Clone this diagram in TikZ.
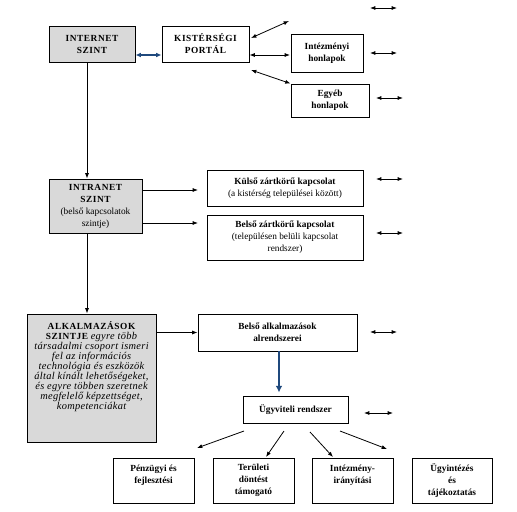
\documentclass[tikz,border=0pt]{standalone}
\usepackage{fontspec}
\setmainfont{Liberation Serif}
\usetikzlibrary{arrows.meta,calc}
\definecolor{linkblue}{RGB}{31,73,125}
\def\px{0.75pt}
\newcommand\capsword[1]{{\bfseries\addfontfeature{LetterSpace=6}#1}}
\tikzset{
  box/.style={draw,line width=0.7pt,fill=white,align=center,inner sep=1pt,font=\fontsize{7}{9}\selectfont},
  level/.style={box,fill=gray!30},
  leaf/.style={box,minimum width=81*\px,minimum height=45*\px},
  arr/.style={line width=0.6pt,-{Latex[length=4pt,width=3pt]}},
  dbl/.style={line width=0.6pt,{Latex[length=4pt,width=3pt]}-{Latex[length=4pt,width=3pt]}},
  bluelink/.style={linkblue,line width=1.1pt,{Latex[length=4pt,width=3.5pt]}-{Latex[length=4pt,width=3.5pt]}},
  bluedown/.style={linkblue,line width=2pt,-{Latex[length=5pt,width=5pt]}},
}
\begin{document}
\begin{tikzpicture}[x=0.75pt,y=-0.75pt]
\useasboundingbox (0,0) rectangle (517,511);
% internet level
\node[level,minimum width=86*\px,minimum height=36*\px] (inet) at (92,44) {\capsword{INTERNET}\\\capsword{SZINT}};
\node[box,minimum width=87*\px,minimum height=36*\px] (portal) at (205.5,44) {\capsword{KISTÉRSÉGI}\\\capsword{PORTÁL}};
\node[box,minimum width=72*\px,minimum height=38*\px] (intez) at (327,53) {\textbf{Intézményi}\\\textbf{honlapok}};
\node[box,minimum width=78*\px,minimum height=33*\px] (egyeb) at (330,100.5) {\textbf{Egyéb}\\\textbf{honlapok}};
% intranet level
\node[level,minimum width=93*\px,minimum height=54*\px] (intra) at (95.5,206) {\capsword{INTRANET}\\\capsword{SZINT}\\(belső kapcsolatok\\szintje)};
\node[box,minimum width=156*\px,minimum height=36*\px] (kulso) at (285,188) {\textbf{Külső zártkörű kapcsolat}\\(a kistérség települései között)};
\node[box,minimum width=156*\px,minimum height=45*\px] (belso) at (285,237.5) {\textbf{Belső zártkörű kapcsolat}\\(településen belüli kapcsolat\\rendszer)};
% application level
\node[level,inner sep=0pt,minimum width=129*\px] (alk) at (91.5,378) {\parbox[c][96pt][t]{95pt}{\centering\fontsize{7.8}{7.5}\selectfont\vspace*{5.5pt}%
  {\fontsize{7}{7.5}\selectfont\capsword{ALKALMAZÁSOK}}\\
  {\fontsize{7}{7.5}\selectfont\capsword{SZINTJE}} {\addfontfeature{LetterSpace=3}\itshape egyre több\\
  társadalmi csoport ismeri\\
  fel az információs\\
  technológia és eszközök\\
  által kínált lehetőségeket,\\
  és egyre többen szeretnek\\
  megfelelő képzettséget,\\
  kompetenciákat}\par}};
\node[box,minimum width=159*\px,minimum height=37*\px] (balk) at (277.5,332.5) {\textbf{Belső alkalmazások}\\\textbf{alrendszerei}};
\node[box,minimum width=105*\px,minimum height=27*\px] (ugyv) at (295.5,409.5) {\textbf{Ügyviteli rendszer}};
\node[leaf] (penz) at (153.5,480.5) {\textbf{Pénzügyi és}\\\textbf{fejlesztési}\\\mbox{}};
\node[leaf] (teru) at (253.5,480.5) {\textbf{Területi}\\\textbf{döntést}\\\textbf{támogató}};
\node[leaf] (intm) at (352.5,480.5) {\textbf{Intézmény-}\\\textbf{irányítási}\\\mbox{}};
\node[leaf,minimum width=80*\px] (ugyi) at (452,480.5) {\textbf{Ügyintézés}\\\textbf{és}\\\textbf{tájékoztatás}};
% connectors
\draw[bluelink] ($(inet.east)+(0,11)$) -- ($(portal.west)+(0,11)$);
\coordinate (trunk) at (87,0);
\draw[arr] (inet.south -| trunk) -- (intra.north -| trunk);
\draw[arr] (intra.south -| trunk) -- (alk.north -| trunk);
\coordinate (p1) at (251,38);
\coordinate (h1) at (289,21);
\coordinate (p2) at (290,55);
\coordinate (p3) at (251,70);
\draw[dbl] (p1) -- (h1);
\draw[dbl] (portal.east |- p2) -- (p2);
\draw[dbl] (p3) -- (egyeb.north west);
\coordinate (k1) at (198,190);
\coordinate (k2) at (198,223);
\draw[arr] (intra.east |- k1) -- (k1);
\draw[arr] (intra.east |- k2) -- (k2);
\draw[arr] (alk.east |- balk.west) -- (balk.west);
\draw[bluedown] ($(balk.south)+(1.5,0)$) -- ($(ugyv.north -| balk.south)+(1.5,-3)$);
\foreach \xa/\ya/\xb/\yb [count=\i] in {244/431/197/448, 284/431/266/457, 310/432/333/457, 340/431/387/449}{
  \coordinate (ua\i) at (\xa,\ya);
  \coordinate (ub\i) at (\xb,\yb);
  \draw[arr] (ua\i) -- (ub\i);
}
% loose double arrows on the right
\foreach \xa/\xb/\yy [count=\i] in {370/397/8, 370/397/53, 376/403/98, 376/403/179, 376/403/233, 370/397/332, 364/393/413}{
  \coordinate (sa\i) at (\xa,\yy);
  \coordinate (sb\i) at (\xb,\yy);
  \draw[dbl] (sa\i) -- (sb\i);
}
\end{tikzpicture}
\end{document}
